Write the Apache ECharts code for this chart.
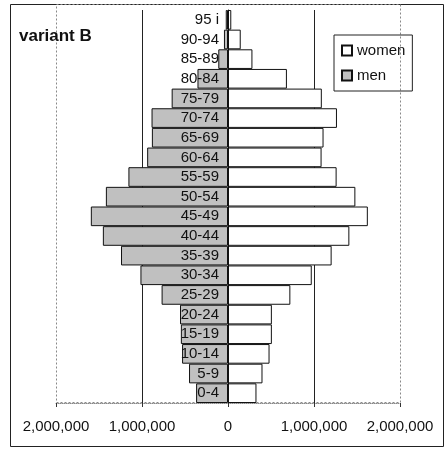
<!DOCTYPE html>
<html><head><meta charset="utf-8">
<script src="https://cdn.jsdelivr.net/npm/echarts@6/dist/echarts.min.js"></script>
<style>html,body{margin:0;padding:0;background:#fff}#c{width:444px;height:449px}</style>
</head><body><div id="c"></div>
<script>
const categories = ['0-4','5-9','10-14','15-19','20-24','25-29','30-34','35-39','40-44','45-49','50-54','55-59','60-64','65-69','70-74','75-79','80-84','85-89','90-94','95 i'];
const women = [331000,401000,483000,510000,510000,725000,974000,1205000,1411000,1626000,1481000,1263000,1088000,1111000,1267000,1091000,685000,284000,148000,38000];
const men = [371000,453000,534000,548000,558000,772000,1018000,1244000,1455000,1595000,1420000,1158000,940000,885000,889000,655000,355000,113000,47000,26000];
const xTicks = [-2000000,-1000000,0,1000000,2000000];
const seriesNames = ['women','men'];
const titleText = 'variant B';

const FONT = 'Liberation Sans, Arial, sans-serif';
const chart = echarts.init(document.getElementById('c'), null, {renderer:'canvas'});
const fmt = v => Math.abs(v).toLocaleString('en-US');
chart.setOption({
  animation:false,
  backgroundColor:'#fff',
  textStyle:{fontFamily:FONT},
  title:{text:titleText,left:14,top:23,textStyle:{fontFamily:FONT,fontSize:17,fontWeight:'bold',color:'#111'}},
  legend:{
    data:seriesNames,
    orient:'vertical',left:334,top:35,
    padding:[8,7,8,7],itemGap:10,itemWidth:10,itemHeight:10,
    borderColor:'#222',borderWidth:1,
    textStyle:{fontFamily:FONT,fontSize:15,color:'#111'},
    icon:'rect'
  },
  grid:{left:56,right:44,top:10,bottom:46,containLabel:false},
  xAxis:{
    type:'value',min:xTicks[0],max:xTicks[xTicks.length-1],interval:1000000,
    axisLine:{show:true,lineStyle:{color:'#888',type:'dotted'}},
    axisTick:{show:true,length:4,lineStyle:{color:'#333'}},
    axisLabel:{formatter:fmt,fontSize:15,color:'#111',margin:16,fontFamily:FONT},
    splitLine:{show:true,lineStyle:{color:['rgba(0,0,0,0)','#222','rgba(0,0,0,0)','#222','rgba(0,0,0,0)'],width:1}}
  },
  yAxis:{
    type:'category',data:categories,z:5,
    axisLine:{show:true,onZero:true,lineStyle:{color:'#111'}},
    axisTick:{show:false},
    axisLabel:{fontSize:15,color:'#111',margin:-163,align:'right',fontFamily:FONT}
  },
  graphic:[
    {type:'rect',shape:{x:10.5,y:4.5,width:433,height:442},style:{fill:null,stroke:'#222',lineWidth:1},z:-1},
    {type:'rect',shape:{x:56.5,y:4.5,width:344,height:398},style:{fill:null,stroke:'#888',lineWidth:1,lineDash:[2,2]},z:-1}
  ],
  series:[
    {name:'women',type:'bar',data:women,barCategoryGap:'0%',barGap:'-100%',
     itemStyle:{color:'#ffffff',borderColor:'#111',borderWidth:1}},
    {name:'men',type:'bar',data:men.map(v=>-v),barCategoryGap:'0%',barGap:'-100%',
     itemStyle:{color:'#c0c0c0',borderColor:'#111',borderWidth:1}}
  ]
});
</script></body></html>
